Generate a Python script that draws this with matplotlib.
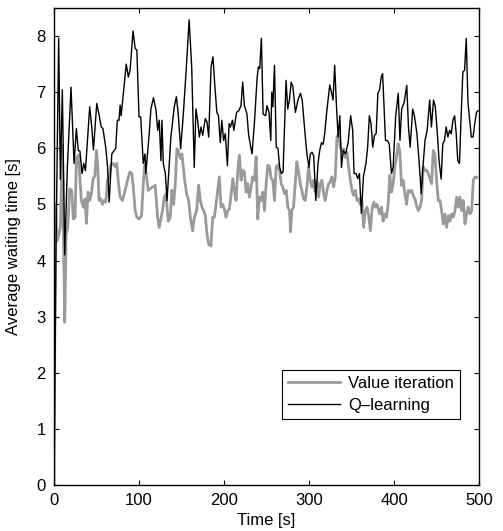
import matplotlib
matplotlib.use("Agg")
import matplotlib.pyplot as plt

plt.rcParams['font.family'] = ['Liberation Sans', 'DejaVu Sans']

# Value iteration (gray, thick)
vi_time = [0, 1.8, 3.5, 5.5, 7.5, 9.8, 11.2, 12.6, 14.2, 16.2, 18.5, 20.8, 22.8, 24.8, 26.3, 28.7,
           30.3, 32.2, 34.6, 36.6, 38.1, 40.1, 42.1, 44, 46, 48, 49.9, 51.5, 53, 55, 57, 59, 61,
           62.9, 64.9, 66.8, 69.6, 72, 73.9, 75.9, 77.8, 80.6, 83.7, 86.5, 89.2, 91.6, 93.6, 95.5,
           97.5, 100.2, 103, 105.3, 106.9, 108.9, 110.8, 113.2, 115.9, 119.1, 121.9, 123.8, 127.7,
           129.7, 131.7, 134.4, 136.8, 138.7, 140.7, 142.7, 144.6, 146.2, 148.6, 150.5, 153.3, 156,
           158.4, 160.4, 163.1, 165.1, 167.8, 170.2, 172.1, 174.1, 176.1, 178, 180, 182, 184.7,
           186.7, 188.6, 190.6, 192.6, 194.5, 196.5, 198.5, 200.4, 202.4, 204.4, 206.3, 208.3,
           210.3, 212.2, 214.2, 216.2, 218.1, 220.1, 222, 224, 226, 227.9, 229.9, 231.9, 233.8,
           235.8, 237.8, 239.7, 241.7, 243.7, 245.6, 247.6, 249.6, 251.5, 253.5, 255.5, 257.4,
           259.4, 261.4, 263.3, 265.3, 267.3, 269.2, 271.2, 273.2, 275.1, 277.1, 278.3, 279.8,
           281.8, 283.8, 285.7, 287.7, 289.7, 291.6, 293.6, 295.6, 297.5, 299.5, 301.4, 303.4,
           305.4, 307.3, 309.3, 311.3, 313.2, 315.2, 317.2, 319.1, 321.1, 323.1, 325, 327, 329,
           330.9, 332.9, 334.9, 336.8, 338.8, 340.7, 342.7, 344.7, 346.6, 348.6, 350.6, 352.5,
           354.5, 356.5, 358.4, 360.4, 362.4, 364.3, 366.3, 368.3, 370.2, 372.2, 374.2, 376.1,
           378.1, 380, 383.3, 385.3, 387.2, 389.2, 391.2, 393.1, 395.1, 397.1, 399, 401, 403,
           404.9, 406.9, 408.8, 410.8, 412.8, 414.7, 416.7, 418.7, 420.6, 422.6, 424.6, 426.5,
           428.5, 430.5, 432.4, 434.4, 436.4, 438.3, 440.3, 442.3, 444.2, 446.2, 448.1, 450.1,
           452.1, 454, 456, 458, 459.9, 461.9, 463.9, 465.8, 467.8, 469.8, 471.7, 473.7, 475.7,
           477.6, 479.6, 481.5, 483.5, 485.5, 487.4, 489.4, 491.4, 493.3, 495.3, 497.3]
vi_wait = [0.0, 5.0, 4.35, 4.45, 4.6, 6.05, 4.4, 2.9, 4.45, 4.6, 5.28, 5.25, 4.74, 4.77, 5.82, 5.88,
           5.52, 5.07, 4.95, 5.1, 4.66, 5.22, 5.07, 5.19, 5.46, 5.5, 5.96, 5.67, 5.07, 5.1, 5.0, 5.07,
           5.04, 5.43, 5.49, 5.7, 5.73, 5.67, 5.73, 5.37, 5.13, 5.07, 5.25, 5.43, 5.58, 5.55, 5.25,
           4.89, 4.77, 4.74, 4.8, 5.43, 5.7, 5.49, 5.25, 5.28, 5.31, 5.34, 4.77, 4.59, 4.89,
           5.13, 5.19, 4.7, 4.77, 5.25, 5.0, 5.37, 5.99, 5.96, 5.82, 5.9, 5.49, 5.19,
           5.07, 4.77, 4.53, 4.77, 4.89, 5.34, 5.07, 4.95, 4.89, 4.8, 4.47, 4.29, 4.26,
           4.77, 4.77, 5.0, 5.25, 5.49, 4.95, 5.0, 4.92, 4.77, 4.89, 4.92, 5.16,
           5.46, 5.25, 5.07, 5.61, 5.88, 5.43, 5.61, 5.58, 5.22, 5.37, 5.13, 5.31, 5.49,
           5.43, 5.85, 4.74, 5.13, 5.07, 5.22, 4.89, 5.37, 5.7, 5.67, 5.46, 5.43,
           5.07, 5.67, 5.7, 5.61, 5.37, 5.31, 5.19, 5.25, 4.95, 4.89, 4.51, 4.89,
           4.95, 5.37, 5.76, 5.58, 5.37, 5.25, 5.1, 5.07, 5.31, 5.67, 5.43, 5.31,
           5.43, 5.22, 5.43, 5.13, 5.37, 5.43, 5.19, 5.07, 5.25, 5.37, 5.4, 5.49, 5.31,
           5.49, 6.2, 6.26, 6.02, 5.96, 5.99, 5.84, 5.93, 5.67, 5.43, 5.25, 5.16,
           5.25, 5.07, 5.1, 5.0, 5.04, 4.59, 4.89, 4.95, 4.8, 4.53, 4.92, 5.04,
           4.95, 5.0, 4.83, 4.95, 4.7, 4.83, 4.77, 5.0, 5.52, 5.22, 5.37, 5.67, 5.85,
           6.08, 5.93, 5.34, 5.43, 5.19, 5.0, 5.25, 5.22, 5.25, 5.16, 5.1, 4.98,
           4.89, 4.95, 5.07, 5.67, 5.61, 5.61, 5.55, 5.46, 5.37, 5.96, 5.9, 5.43,
           5.07, 5.07, 4.89, 4.65, 4.83, 4.59, 4.8, 4.7, 4.83, 4.77, 4.89, 5.13, 4.95,
           5.13, 4.89, 5.07, 4.65, 4.83, 4.95, 4.83, 4.89, 5.43, 5.49, 5.48]

# Q-learning (black, thin)
ql_time = [0, 2.5, 5.5, 7.5, 9.8, 10.8, 12.6, 15.7, 20, 23.6, 26.3, 28.6, 30.5, 33, 35, 37, 42, 44.4,
           46.4, 50.3, 53, 55.6, 57.6, 60.8, 63, 64.9, 68, 72.6, 74.5, 76.5, 77.8, 79, 85, 87.5,
           89.5, 93, 95.5, 97.5, 100, 102, 105, 107, 108, 112, 114, 117, 120, 122, 123.8, 125.8,
           127, 128.6, 131, 133, 137.5, 141.5, 144, 146, 149, 152, 155, 159, 162, 165, 167, 169,
           171, 173, 175, 178, 180, 182, 184.8, 187, 189, 191.6, 193.5, 195.6, 197.5, 199.5, 201.5,
           204, 206, 207.5, 210, 211.6, 214.8, 217.5, 220, 222, 224, 227, 229, 233, 236, 239,
           240.5, 242, 244, 246, 249, 250.5, 253, 255, 256.2, 257.5, 259.4, 261.5, 263.5, 265.5,
           267.5, 269.5, 273, 275, 277, 279, 281, 284, 287, 290, 292, 295, 297.5, 300, 301.5,
           303.5, 305.5, 308, 310.6, 312.6, 314.6, 316.5, 318.5, 320.5, 322.4, 324.4, 326.4,
           328.3, 330.2, 332.3, 334.3, 336.3, 338.2, 340.2, 343, 346, 349, 351.4, 353, 355.4,
           357.3, 359.3, 361.6, 364, 367, 369, 371, 373, 375, 377, 379, 381, 383, 385, 386.6,
           388.3, 390, 392, 394.4, 397, 399, 402, 405, 407, 409, 412, 415, 417, 419, 422, 424,
           427, 430, 432, 434, 436.5, 439, 442, 444, 446.5, 448.6, 451, 453, 455.5, 457.4, 459.4,
           461.4, 463.4, 465.4, 467.4, 469.3, 471.3, 473.2, 475, 477, 479, 481, 483, 485, 487,
           489, 491, 493, 495, 497, 499]
ql_wait = [0.0, 4.4, 7.96, 5.45, 7.04, 6.05, 4.1, 5.66, 7.09, 5.73, 6.35, 5.96, 5.95, 5.55, 5.73, 5.6,
           6.74, 6.38, 5.97, 6.8, 6.6, 6.38, 6.35, 6.02, 5.67, 5.04, 5.9, 6.0, 6.5, 6.5, 6.77, 6.58,
           7.5, 7.27, 7.39, 8.09, 7.78, 7.75, 6.56, 6.56, 5.73, 5.9, 5.55, 6.26, 6.7, 6.9, 6.68,
           6.32, 6.5, 5.78, 6.5, 5.73, 5.55, 5.07, 6.2, 6.74, 6.92, 6.64, 5.99, 6.58, 7.27, 8.29,
           7.45, 5.66, 6.7, 6.5, 6.2, 6.38, 6.23, 6.53, 6.47, 6.2, 7.45, 7.63, 7.16, 6.64, 6.58,
           6.1, 6.5, 6.14, 6.26, 5.69, 6.44, 6.38, 6.5, 6.32, 6.64, 6.67, 6.76, 7.18, 6.76, 6.61,
           6.23, 5.9, 6.5, 7.27, 7.45, 7.42, 7.96, 6.61, 6.58, 6.76, 6.64, 6.14, 7.0, 6.74, 7.48,
           6.02, 6.0, 5.66, 5.55, 5.58, 7.21, 6.7, 6.86, 7.18, 7.1, 6.64, 6.86, 6.98, 6.86, 6.32,
           5.9, 5.66, 5.9, 5.93, 5.87, 5.07, 5.73, 5.96, 6.1, 6.07, 6.26, 6.6, 6.86, 7.13, 7.0,
           6.86, 7.48, 6.76, 6.2, 6.58, 5.66, 5.96, 5.9, 6.1, 6.58, 6.32, 5.55, 5.55, 5.46, 5.55,
           4.84, 5.49, 5.73, 6.02, 6.58, 6.44, 6.02, 6.23, 6.26, 6.98, 7.04, 7.27, 7.33, 6.74,
           6.14, 6.14, 6.08, 5.55, 5.66, 6.58, 6.98, 6.14, 6.7, 6.82, 7.12, 6.38, 6.02, 6.7, 6.58,
           6.26, 5.66, 5.19, 5.66, 6.14, 6.32, 6.86, 6.38, 6.86, 6.74, 6.26, 5.78, 5.45, 6.08,
           6.14, 6.38, 6.2, 6.32, 6.26, 6.5, 6.58, 6.26, 5.78, 5.73, 6.58, 7.36, 7.39, 7.96, 6.82,
           6.5, 6.2, 6.2, 6.44, 6.64, 6.67]

fig = plt.figure(figsize=(5.03, 5.31), dpi=100)
ax = fig.add_axes([54 / 503, 1 - 485 / 531, 425 / 503, 477 / 531])

ax.plot(vi_time, vi_wait, color='#9a9a9a', linewidth=2.0, label='Value iteration')
ax.plot(ql_time, ql_wait, color='black', linewidth=1.0, label='Q\u2013learning')

ax.set_xlim(0, 500)
ax.set_ylim(0, 8.5)
ax.set_xticks([0, 100, 200, 300, 400, 500])
ax.set_yticks(range(0, 9))
ax.tick_params(direction='in', top=True, right=True, length=3.5, width=0.8,
               labelsize=12, pad=6)
for sp in ax.spines.values():
    sp.set_linewidth(1.0)

ax.set_xlabel('Time [s]', fontsize=12, labelpad=3)
ax.set_ylabel('Average waiting time [s]', fontsize=12, labelpad=11)

leg = ax.legend(loc='lower right', bbox_to_anchor=(0.955, 0.139), borderaxespad=0,
                fontsize=12, fancybox=False, framealpha=1, edgecolor='black',
                handlelength=3.1, handletextpad=0.5, labelspacing=0.4, borderpad=0.35)
leg.get_frame().set_linewidth(0.8)

fig.savefig('out.png', dpi=100)
